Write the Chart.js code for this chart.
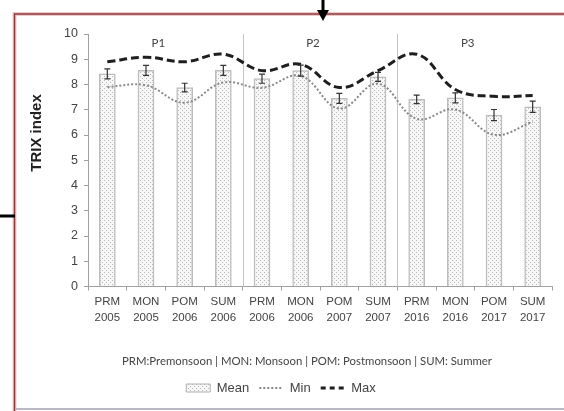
<!DOCTYPE html>
<html><head><meta charset="utf-8">
<script src="https://cdn.jsdelivr.net/npm/chart.js@4.4.0/dist/chart.umd.min.js"></script>
<style>html,body{margin:0;padding:0;background:#fff;overflow:hidden}canvas{display:block}</style>
</head><body>
<canvas id="c" width="564" height="411"></canvas>
<script>
// ---- data ----
const seasons = ['PRM','MON','POM','SUM','PRM','MON','POM','SUM','PRM','MON','POM','SUM'];
const years   = ['2005','2005','2006','2006','2006','2006','2007','2007','2016','2016','2017','2017'];
const meanVals = [8.42, 8.56, 7.88, 8.56, 8.23, 8.55, 7.45, 8.30, 7.41, 7.47, 6.79, 7.12];
const errVals  = [0.20, 0.20, 0.17, 0.20, 0.18, 0.22, 0.20, 0.18, 0.17, 0.20, 0.22, 0.22];
const minVals  = [7.90, 7.97, 7.28, 8.08, 7.87, 8.34, 7.05, 8.03, 6.64, 7.01, 6.01, 6.52];
const maxVals  = [8.90, 9.08, 8.90, 9.20, 8.55, 8.80, 7.88, 8.55, 9.20, 7.80, 7.53, 7.56];
const periods = ['P1','P2','P3'];
const periodSize = 4;
const yTicks = [0,1,2,3,4,5,6,7,8,9,10];
const seriesNames = ['Mean','Min','Max'];
const yAxisTitle = 'TRIX index';
const footnote = 'PRM:Premonsoon | MON: Monsoon | POM: Postmonsoon | SUM: Summer';

// ---- styles ----
const sansFamily = "'Liberation Sans', Arial, sans-serif";
function makePattern(){
  const c = document.createElement('canvas'); c.width = 4; c.height = 4;
  const x = c.getContext('2d');
  x.fillStyle = '#f7f7f7'; x.fillRect(0,0,4,4);
  x.fillStyle = '#b8b8b8'; x.fillRect(0,0,1,1); x.fillRect(2,2,1,1);
  return x.createPattern(c, 'repeat');
}
const pattern = makePattern();
const axisColor = '#a0a0a0';
const textColor = '#444';

const decor = {
  id: 'decor',
  beforeDraw(chart){
    const ctx = chart.ctx;
    ctx.save();
    ctx.fillStyle = '#fff'; ctx.fillRect(0,0,chart.width,chart.height);
    ctx.lineCap = 'butt';
    ctx.strokeStyle = 'rgba(220,150,150,0.5)'; ctx.lineWidth = 4;
    ctx.beginPath(); ctx.moveTo(564,14); ctx.lineTo(14.5,14); ctx.lineTo(14.5,411); ctx.stroke();
    ctx.strokeStyle = '#8e3b3b'; ctx.lineWidth = 1.5;
    ctx.beginPath(); ctx.moveTo(564,14); ctx.lineTo(14.5,14); ctx.lineTo(14.5,411); ctx.stroke();
    ctx.strokeStyle = '#b8b8c6'; ctx.lineWidth = 2;
    ctx.beginPath(); ctx.moveTo(15,409); ctx.lineTo(564,409); ctx.stroke();
    ctx.fillStyle = '#000';
    ctx.fillRect(321.5,0,3,12);
    ctx.beginPath(); ctx.moveTo(317,10); ctx.lineTo(329,10); ctx.lineTo(323,21); ctx.closePath(); ctx.fill();
    ctx.fillRect(0,214.5,15,3);
    ctx.restore();
  },
  beforeDatasetsDraw(chart){
    const ctx = chart.ctx, xs = chart.scales.x, a = chart.chartArea;
    ctx.save();
    ctx.strokeStyle = '#c4c4c4'; ctx.lineWidth = 1;
    for (let g = 1; g < periods.length; g++){
      const i = g*periodSize;
      const x = Math.round((xs.getPixelForValue(i-1) + xs.getPixelForValue(i))/2) + 0.5;
      ctx.beginPath(); ctx.moveTo(x, a.top); ctx.lineTo(x, a.bottom); ctx.stroke();
    }
    ctx.restore();
  },
  afterDatasetsDraw(chart){
    const ctx = chart.ctx, ys = chart.scales.y;
    const meta = chart.getDatasetMeta(0);
    ctx.save();
    ctx.strokeStyle = '#333'; ctx.lineWidth = 1.2;
    meta.data.forEach((el, i) => {
      const x = el.x;
      const yt = ys.getPixelForValue(meanVals[i] + errVals[i]);
      const yb = ys.getPixelForValue(meanVals[i] - errVals[i]);
      ctx.beginPath();
      ctx.moveTo(x, yt); ctx.lineTo(x, yb);
      ctx.moveTo(x-3, yt); ctx.lineTo(x+3, yt);
      ctx.moveTo(x-3, yb); ctx.lineTo(x+3, yb);
      ctx.stroke();
    });
    ctx.restore();
  },
  afterDraw(chart){
    const ctx = chart.ctx, xs = chart.scales.x;
    ctx.save();
    ctx.fillStyle = textColor;
    ctx.textAlign = 'center'; ctx.textBaseline = 'middle';
    ctx.font = '11.5px Lato';
    periods.forEach((p, g) => {
      const x0 = xs.getPixelForValue(g*periodSize), x1 = xs.getPixelForValue(g*periodSize + periodSize - 1);
      ctx.fillText(p, (x0 + x1)/2 - 7, 43);
    });
    ctx.save();
    ctx.translate(37, 133); ctx.rotate(-Math.PI/2);
    ctx.fillStyle = '#222';
    ctx.font = 'bold 15px ' + sansFamily;
    ctx.fillText(yAxisTitle, 0, 0);
    ctx.restore();
    ctx.font = '10px Lato';
    const w = ctx.measureText(footnote).width;
    const fs = 10 * 370 / w;
    ctx.font = fs.toFixed(2) + 'px Lato';
    ctx.fillText(footnote, 307, 361);
    ctx.restore();
  }
};

new Chart(document.getElementById('c'), {
  type: 'bar',
  data: {
    labels: seasons.map((s, i) => [s, years[i]]),
    datasets: [
      { type:'bar', label: seriesNames[0], data: meanVals, backgroundColor: pattern, borderColor: '#bdbdbd', borderWidth: 1.5, barThickness: 16, order: 3 },
      { type:'line', label: seriesNames[1], data: minVals, borderColor: '#8a8a8a', borderWidth: 2, borderDash: [2,2], pointRadius: 0, tension: 0.4, fill: false, order: 2 },
      { type:'line', label: seriesNames[2], data: maxVals, borderColor: '#1e1e1e', borderWidth: 3, borderDash: [8,4], pointRadius: 0, tension: 0.4, fill: false, order: 1 }
    ]
  },
  options: {
    responsive: false, animation: false, devicePixelRatio: 1,
    layout: { padding: { top: 34, left: 10, right: 12, bottom: 6.5 } },
    plugins: {
      tooltip: { enabled: false },
      legend: {
        position: 'bottom',
        labels: {
          usePointStyle: true, pointStyleWidth: 24, boxHeight: 8, padding: 10,
          color: textColor, font: { family: sansFamily, size: 13 },
          generateLabels(){
            return [
              { text: seriesNames[0], fillStyle: pattern, strokeStyle: '#b0b0b0', lineWidth: 1, lineDash: [], pointStyle: 'rect', datasetIndex: 0, hidden: false, fontColor: textColor },
              { text: seriesNames[1], fillStyle: 'rgba(0,0,0,0)', strokeStyle: '#8a8a8a', lineWidth: 2, lineDash: [2,2], pointStyle: 'line', datasetIndex: 1, hidden: false, fontColor: textColor },
              { text: seriesNames[2], fillStyle: 'rgba(0,0,0,0)', strokeStyle: '#1e1e1e', lineWidth: 3, lineDash: [5,4], pointStyle: 'line', datasetIndex: 2, hidden: false, fontColor: textColor }
            ];
          }
        }
      }
    },
    scales: {
      x: {
        grid: { offset: true, drawOnChartArea: false, drawTicks: true, tickLength: 4, color: axisColor },
        border: { color: axisColor },
        ticks: { color: textColor, font: { family: sansFamily, size: 11.5, lineHeight: 1.35 }, padding: 4, maxRotation: 0, autoSkip: false },
        afterFit(s){ s.height = 85; }
      },
      y: {
        min: 0, max: 10,
        afterBuildTicks(s){ s.ticks = yTicks.map(v => ({ value: v })); },
        ticks: { color: textColor, font: { family: sansFamily, size: 12.5 }, padding: 6 },
        grid: { drawOnChartArea: false, tickLength: 4, color: axisColor },
        border: { color: axisColor },
        afterFit(s){ s.width = 78; }
      }
    }
  },
  plugins: [decor]
});
</script>
</body></html>
